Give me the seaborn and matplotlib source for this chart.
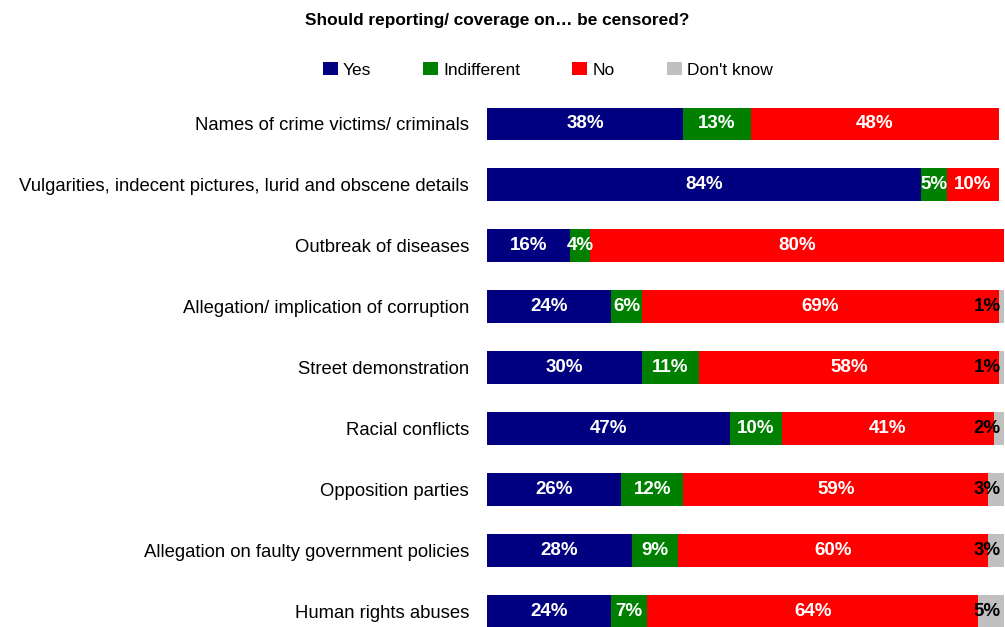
import matplotlib
matplotlib.use("Agg")
import matplotlib.pyplot as plt
from matplotlib.patches import Patch
import seaborn as sns
import numpy as np
import pandas as pd

categories = [
    "Names of crime victims/ criminals",
    "Vulgarities, indecent pictures, lurid and obscene details",
    "Outbreak of diseases",
    "Allegation/ implication of corruption",
    "Street demonstration",
    "Racial conflicts",
    "Opposition parties",
    "Allegation on faulty government policies",
    "Human rights abuses",
]
yes = [38, 84, 16, 24, 30, 47, 26, 28, 24]
indifferent = [13, 5, 4, 6, 11, 10, 12, 9, 7]
no = [48, 10, 80, 69, 58, 41, 59, 60, 64]
dont_know = [0, 0, 0, 1, 1, 2, 3, 3, 5]

series_names = ["Yes", "Indifferent", "No", "Don't know"]
colors = ["#000080", "#008000", "#FF0000", "#C0C0C0"]

sns.set_theme(style="white")
plt.rcParams['font.family'] = ['Liberation Sans', 'DejaVu Sans']
plt.rcParams['text.color'] = 'black'

df = pd.DataFrame({"cat": categories, "Yes": yes, "Indifferent": indifferent,
                   "No": no, "Don't know": dont_know})
vals = df[series_names].to_numpy(dtype=float)
cum = np.cumsum(vals, axis=1)

fig = plt.figure(figsize=(10.05, 6.27), dpi=100)
ax = fig.add_axes([487/1005, 0.0, (1004-487)/1005, 1 - 93.5/627])

# draw cumulative bars from longest to shortest so they stack visually
for i in range(3, -1, -1):
    plot_df = pd.DataFrame({"cat": categories, "v": cum[:, i]})
    sns.barplot(data=plot_df, x="v", y="cat", color=colors[i], width=0.54,
                ax=ax, orient="h", saturation=1, edgecolor="none", linewidth=0)

ax.set_xlim(0, 100)
ax.set_ylim(8.26, -0.5)
ax.set_xlabel("")
ax.set_ylabel("")
ax.set_xticks([])
for s in ax.spines.values():
    s.set_visible(False)
ax.tick_params(axis="y", length=0, pad=13, labelsize=13.3, labelcolor="black")

for r in range(len(categories)):
    left = 0
    for i in range(4):
        v = vals[r, i]
        if v > 0:
            if i < 3:
                ax.text(left + v / 2, r, f"{int(v)}%", ha="center", va="center",
                        color="white", fontsize=13.5, fontweight="bold")
            else:
                ax.text(99.4, r, f"{int(v)}%", ha="right", va="center",
                        color="black", fontsize=13.5, fontweight="bold")
        left += v

fig.text(0.495, 0.968, "Should reporting/ coverage on\u2026 be censored?",
         ha="center", va="center", fontsize=12.4, fontweight="bold", color="black")

handles = [Patch(facecolor=c, edgecolor="none") for c in colors]
fig.legend(handles, series_names, loc="center", bbox_to_anchor=(0.545, 0.889),
           ncol=4, frameon=False, fontsize=12.5, handlelength=0.85, handleheight=0.85,
           handletextpad=0.3, columnspacing=3.0, labelcolor="black")

fig.savefig("out.png", dpi=100)
